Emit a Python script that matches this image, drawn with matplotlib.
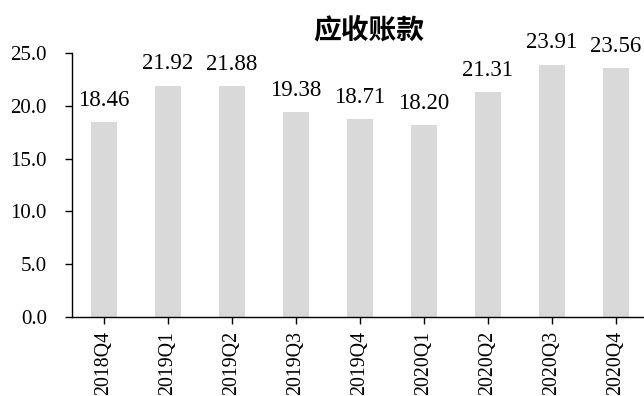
import matplotlib
matplotlib.use("Agg")
import matplotlib.pyplot as plt

categories = ["2018Q4", "2019Q1", "2019Q2", "2019Q3", "2019Q4",
              "2020Q1", "2020Q2", "2020Q3", "2020Q4"]
values = [18.46, 21.92, 21.88, 19.38, 18.71, 18.20, 21.31, 23.91, 23.56]
yticks = [0, 5, 10, 15, 20, 25]
title = "应收账款"

plt.rcParams['font.family'] = ['Liberation Serif', 'Noto Sans CJK SC']

fig = plt.figure(figsize=(6.44, 3.96), dpi=100)
ax = fig.add_axes([0.1118, 0.1995, 0.8882, 0.6665])

x = list(range(len(categories)))
ax.bar(x, values, width=0.4, color="#d9d9d9", zorder=2)

for xi, v in zip(x, values):
    ax.annotate(f"{v:.2f}", (xi, v), xytext=(0, 8), textcoords="offset points",
                ha="center", va="bottom", fontsize=16.5)

ax.set_xlim(-0.5, 8.44)
ax.set_ylim(0, 25)
ax.set_yticks(yticks)
ax.set_yticklabels([f"{t:.1f}" for t in yticks], fontsize=15)
ax.set_xticks(x)
ax.set_xticklabels(categories, rotation=90, fontsize=14.3)
ax.tick_params(axis="both", direction="out", length=5, width=1, colors="black")
ax.tick_params(axis="y", pad=13)
ax.tick_params(axis="x", pad=5)

for s in ["top", "right"]:
    ax.spines[s].set_visible(False)
for s in ["left", "bottom"]:
    ax.spines[s].set_linewidth(1)
    ax.spines[s].set_color("black")

fig.text(0.572, 0.922, title, ha="center", va="center", fontsize=20,
         fontweight="bold", family=["Noto Sans CJK SC"])

fig.savefig("out.png", dpi=100)
